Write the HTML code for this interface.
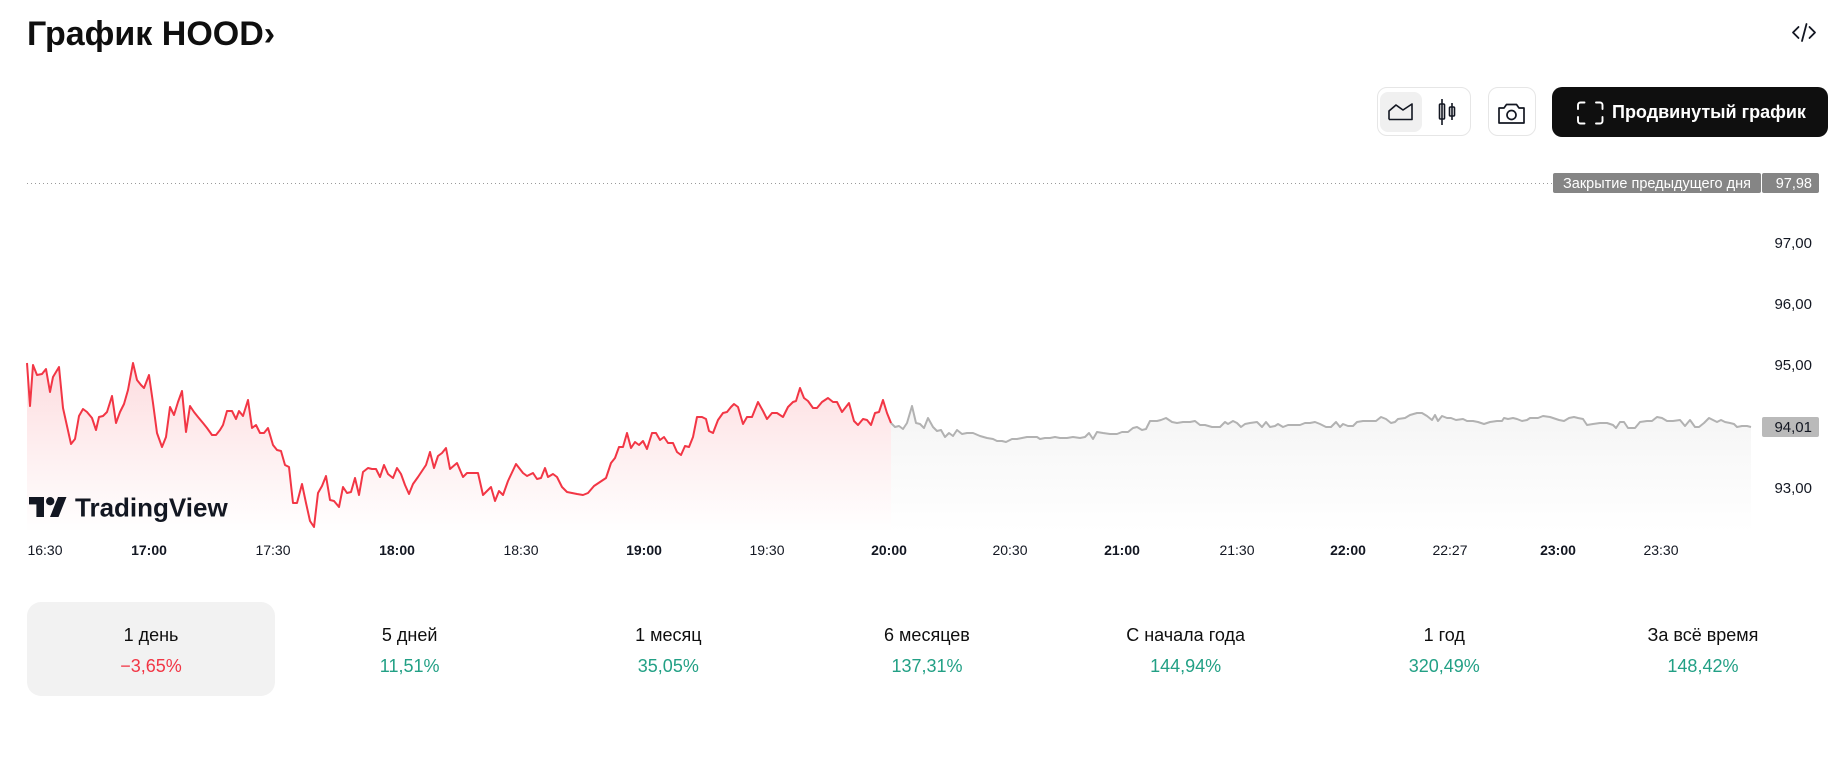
<!DOCTYPE html>
<html>
<head>
<meta charset="utf-8">
<style>
  html,body{margin:0;padding:0;background:#fff;}
  body{width:1838px;height:764px;position:relative;overflow:hidden;font-family:"Liberation Sans","Noto Sans CJK SC",sans-serif;color:#131722;}
  .title{position:absolute;left:27px;top:17px;font-size:34px;line-height:34px;font-weight:bold;white-space:nowrap;color:#0f0f0f;}
  .grp{position:absolute;left:1377px;top:87px;width:92px;height:47px;border:1px solid #e6e6e6;border-radius:10px;}
  .grp .act{position:absolute;left:2px;top:4px;width:42px;height:40px;background:#f0f0f0;border-radius:8px;}
  .cam{position:absolute;left:1488px;top:87px;width:46px;height:47px;border:1px solid #e6e6e6;border-radius:10px;}
  .adv{position:absolute;left:1552px;top:87px;width:276px;height:50px;background:#0f0f0f;border-radius:10px;}
  .adv span{position:absolute;left:60px;top:0;line-height:50px;color:#fff;font-size:18px;font-weight:bold;white-space:nowrap;}
  .tabs{position:absolute;left:27px;top:602px;width:1800px;display:flex;gap:10.67px;}
  .tab{width:248px;height:94px;border-radius:14px;text-align:center;box-sizing:border-box;padding-top:21px;}
  .tab.on{background:#f2f2f2;}
  .tab .l{font-size:18px;line-height:24px;color:#0f0f0f;}
  .tab .p{font-size:18px;line-height:24px;margin-top:7px;color:#22a085;}
  .tab .p.neg{color:#f23645;}
</style>
</head>
<body>
<div class="title">График HOOD›</div>

<div class="grp"><div class="act"></div></div>
<div class="cam"></div>
<div class="adv"><span>Продвинутый график</span></div>

<svg width="1838" height="764" style="position:absolute;left:0;top:0;" xmlns="http://www.w3.org/2000/svg">
  <defs>
    <linearGradient id="rg" gradientUnits="userSpaceOnUse" x1="0" y1="363" x2="0" y2="532">
      <stop offset="0" stop-color="#f23645" stop-opacity="0.17"/>
      <stop offset="1" stop-color="#f23645" stop-opacity="0"/>
    </linearGradient>
    <linearGradient id="gg" gradientUnits="userSpaceOnUse" x1="0" y1="406" x2="0" y2="532">
      <stop offset="0" stop-color="#8a8a8a" stop-opacity="0.09"/>
      <stop offset="1" stop-color="#8a8a8a" stop-opacity="0"/>
    </linearGradient>
  </defs>

  <!-- embed icon -->
  <g fill="none" stroke="#131722" stroke-width="1.8" stroke-linecap="round" stroke-linejoin="round">
    <polyline points="1798.5,27 1793,32.5 1798.5,38"/>
    <line x1="1806.5" y1="24" x2="1802" y2="41"/>
    <polyline points="1809.5,27 1815,32.5 1809.5,38"/>
  </g>

  <!-- area icon -->
  <g fill="none" stroke="#131722" stroke-width="1.6" stroke-linejoin="round">
    <polyline points="1389,119.5 1389,111 1396,105 1403,110 1412,104 1412,119.5 1389,119.5"/>
  </g>
  <!-- candles icon -->
  <g fill="none" stroke="#131722" stroke-width="1.6">
    <line x1="1442" y1="99" x2="1442" y2="125"/>
    <rect x="1439.5" y="104" width="5" height="15" rx="1"/>
    <line x1="1452" y1="103" x2="1452" y2="120"/>
    <rect x="1449.5" y="107" width="5" height="9" rx="1"/>
  </g>
  <!-- camera icon -->
  <g fill="none" stroke="#131722" stroke-width="1.7" stroke-linejoin="round">
    <path d="M1499,108 h5 l2.5,-3.5 h10 l2.5,3.5 h5 v15 h-25 z"/>
    <circle cx="1511.5" cy="115" r="4.5"/>
  </g>
  <!-- fullscreen icon -->
  <g fill="none" stroke="#ffffff" stroke-width="1.9" stroke-linecap="round">
    <path d="M1578,109 v-4 a2.5,2.5 0 0 1 2.5,-2.5 h4"/>
    <path d="M1596,102.5 h4 a2.5,2.5 0 0 1 2.5,2.5 v4"/>
    <path d="M1578,117 v4 a2.5,2.5 0 0 0 2.5,2.5 h4"/>
    <path d="M1596,123.5 h4 a2.5,2.5 0 0 0 2.5,-2.5 v-4"/>
  </g>

  <!-- previous close dotted line -->
  <line x1="27" y1="183.5" x2="1553" y2="183.5" stroke="#9a9a9a" stroke-width="1" stroke-dasharray="1 3"/>
  <rect x="1553" y="173" width="208" height="20" rx="2" fill="#858585"/>
  <rect x="1762" y="173" width="57" height="20" rx="2" fill="#858585"/>
  <text x="1657" y="188" text-anchor="middle" font-size="14.5" fill="#ffffff" font-family="Liberation Sans, sans-serif">Закрытие предыдущего дня</text>
  <text x="1812" y="188" text-anchor="end" font-size="14.5" fill="#ffffff" font-family="Liberation Sans, sans-serif">97,98</text>

  <!-- fills -->
  <polygon fill="url(#rg)" points="27,532 27,363 30,406 33,365 37,375 42,374 46,369 50,392 53,377 59,367 63,408 71,444 75,439 79,416 83,409 87,412 92,418 96,430 99,417 103,416 107,412 112,396 116,423 120,412 124,404 128,390 133,363 137,380 141,385 144,388 149,375 153,403 157,433 162,447 166,437 170,407 174,415 178,402 182,391 186,432 190,406 194,412 198,417 203,423 207,428 212,435 216,435 220,430 223,425 227,411 232,411 236,419 239,411 243,416 248,400 252,428 256,425 260,433 264,433 268,428 273,445 277,450 281,451 285,465 289,467 293,503 297,503 302,484 306,503 310,521 314,527 318,493 322,486 326,476 330,500 334,501 339,507 343,487 347,493 351,492 355,478 359,495 363,472 368,468 372,469 376,469 380,477 384,465 388,474 393,478 397,468 401,474 405,485 409,494 413,484 418,477 422,471 426,465 430,452 434,468 438,456 442,453 446,448 450,469 457,463 463,477 467,473 472,473 478,473 483,495 491,487 495,501 499,491 503,495 508,481 516,464 523,473 527,476 533,473 537,479 541,478 545,468 548,477 553,474 557,477 562,487 567,492 572,493 577,494 583,495 588,493 594,486 600,482 606,478 611,463 615,458 619,447 623,447 627,433 631,448 635,442 639,445 643,441 647,449 652,433 656,433 660,440 664,437 668,443 673,443 677,452 681,455 685,446 689,447 693,437 697,417 702,417 706,419 709,431 713,433 718,420 723,413 727,412 731,407 734,404 738,407 743,424 747,417 752,417 758,402 763,411 767,419 772,413 777,413 783,417 788,407 793,402 796,401 800,388 804,398 808,401 813,408 817,408 822,402 828,398 833,402 837,402 842,412 849,403 854,421 858,425 863,419 867,420 871,425 875,413 879,412 883,400 887,413 891,423 891,532"/>
  <polygon fill="url(#gg)" points="891,532 891,423 895,427 899,426 903,429 907,423 912,406 916,423 920,424 924,428 928,418 933,427 937,431 941,430 945,437 949,433 953,436 957,430 962,434 967,433 973,433 980,436 987,438 993,439 997,441 1002,441 1006,442 1012,439 1017,439 1022,438 1027,437 1032,437 1037,437 1040,439 1045,438 1050,438 1055,437 1060,438 1067,438 1073,437 1080,438 1085,437 1089,433 1093,439 1097,432 1103,433 1110,434 1117,434 1122,432 1128,432 1133,428 1137,427 1142,430 1146,429 1150,421 1157,421 1161,420 1166,418 1172,422 1177,423 1183,422 1190,422 1195,421 1200,425 1205,425 1212,427 1220,427 1225,422 1228,424 1233,421 1237,423 1241,427 1245,424 1250,423 1257,422 1262,427 1266,422 1270,427 1275,426 1278,424 1283,427 1288,425 1293,425 1300,425 1305,423 1310,423 1315,422 1320,424 1326,427 1331,427 1336,422 1340,427 1343,424 1348,426 1353,426 1357,422 1363,421 1370,421 1376,421 1381,417 1386,419 1391,423 1395,422 1398,419 1405,418 1410,415 1417,413 1422,413 1427,416 1432,420 1435,415 1438,421 1442,416 1447,418 1451,418 1456,420 1463,419 1467,421 1473,421 1478,422 1484,424 1490,422 1497,421 1502,421 1504,418 1508,419 1513,418 1517,419 1522,421 1527,420 1530,418 1535,418 1538,418 1543,416 1550,417 1553,418 1559,420 1564,421 1569,418 1574,417 1578,418 1583,419 1587,425 1593,424 1600,423 1607,423 1613,425 1616,428 1620,422 1624,422 1628,428 1635,428 1640,422 1647,421 1652,421 1657,417 1662,418 1667,421 1673,421 1680,420 1685,426 1690,420 1695,427 1699,427 1704,423 1709,418 1713,420 1717,422 1721,420 1725,422 1730,423 1734,424 1737,427 1742,426 1747,426 1751,427 1751,532"/>

  <!-- TradingView watermark -->
  <g fill="#131722">
    <rect x="29" y="497" width="15" height="7.4"/>
    <rect x="36.4" y="497" width="7.6" height="20"/>
    <circle cx="50.2" cy="501.2" r="4.2"/>
    <polygon points="50,517 58.5,517 66.5,497 58,497"/>
  </g>
  <text x="75" y="516.5" font-size="26" font-weight="bold" fill="#131722" font-family="Liberation Sans, sans-serif">TradingView</text>

  <!-- lines -->
  <polyline fill="none" stroke="#b2b2b2" stroke-width="2" stroke-linejoin="round" points="891,423 895,427 899,426 903,429 907,423 912,406 916,423 920,424 924,428 928,418 933,427 937,431 941,430 945,437 949,433 953,436 957,430 962,434 967,433 973,433 980,436 987,438 993,439 997,441 1002,441 1006,442 1012,439 1017,439 1022,438 1027,437 1032,437 1037,437 1040,439 1045,438 1050,438 1055,437 1060,438 1067,438 1073,437 1080,438 1085,437 1089,433 1093,439 1097,432 1103,433 1110,434 1117,434 1122,432 1128,432 1133,428 1137,427 1142,430 1146,429 1150,421 1157,421 1161,420 1166,418 1172,422 1177,423 1183,422 1190,422 1195,421 1200,425 1205,425 1212,427 1220,427 1225,422 1228,424 1233,421 1237,423 1241,427 1245,424 1250,423 1257,422 1262,427 1266,422 1270,427 1275,426 1278,424 1283,427 1288,425 1293,425 1300,425 1305,423 1310,423 1315,422 1320,424 1326,427 1331,427 1336,422 1340,427 1343,424 1348,426 1353,426 1357,422 1363,421 1370,421 1376,421 1381,417 1386,419 1391,423 1395,422 1398,419 1405,418 1410,415 1417,413 1422,413 1427,416 1432,420 1435,415 1438,421 1442,416 1447,418 1451,418 1456,420 1463,419 1467,421 1473,421 1478,422 1484,424 1490,422 1497,421 1502,421 1504,418 1508,419 1513,418 1517,419 1522,421 1527,420 1530,418 1535,418 1538,418 1543,416 1550,417 1553,418 1559,420 1564,421 1569,418 1574,417 1578,418 1583,419 1587,425 1593,424 1600,423 1607,423 1613,425 1616,428 1620,422 1624,422 1628,428 1635,428 1640,422 1647,421 1652,421 1657,417 1662,418 1667,421 1673,421 1680,420 1685,426 1690,420 1695,427 1699,427 1704,423 1709,418 1713,420 1717,422 1721,420 1725,422 1730,423 1734,424 1737,427 1742,426 1747,426 1751,427"/>
  <polyline fill="none" stroke="#f23645" stroke-width="2" stroke-linejoin="round" points="27,363 30,406 33,365 37,375 42,374 46,369 50,392 53,377 59,367 63,408 71,444 75,439 79,416 83,409 87,412 92,418 96,430 99,417 103,416 107,412 112,396 116,423 120,412 124,404 128,390 133,363 137,380 141,385 144,388 149,375 153,403 157,433 162,447 166,437 170,407 174,415 178,402 182,391 186,432 190,406 194,412 198,417 203,423 207,428 212,435 216,435 220,430 223,425 227,411 232,411 236,419 239,411 243,416 248,400 252,428 256,425 260,433 264,433 268,428 273,445 277,450 281,451 285,465 289,467 293,503 297,503 302,484 306,503 310,521 314,527 318,493 322,486 326,476 330,500 334,501 339,507 343,487 347,493 351,492 355,478 359,495 363,472 368,468 372,469 376,469 380,477 384,465 388,474 393,478 397,468 401,474 405,485 409,494 413,484 418,477 422,471 426,465 430,452 434,468 438,456 442,453 446,448 450,469 457,463 463,477 467,473 472,473 478,473 483,495 491,487 495,501 499,491 503,495 508,481 516,464 523,473 527,476 533,473 537,479 541,478 545,468 548,477 553,474 557,477 562,487 567,492 572,493 577,494 583,495 588,493 594,486 600,482 606,478 611,463 615,458 619,447 623,447 627,433 631,448 635,442 639,445 643,441 647,449 652,433 656,433 660,440 664,437 668,443 673,443 677,452 681,455 685,446 689,447 693,437 697,417 702,417 706,419 709,431 713,433 718,420 723,413 727,412 731,407 734,404 738,407 743,424 747,417 752,417 758,402 763,411 767,419 772,413 777,413 783,417 788,407 793,402 796,401 800,388 804,398 808,401 813,408 817,408 822,402 828,398 833,402 837,402 842,412 849,403 854,421 858,425 863,419 867,420 871,425 875,413 879,412 883,400 887,413 891,423"/>

  <!-- price axis -->
  <g font-size="15" fill="#131722" text-anchor="end" font-family="Liberation Sans, sans-serif">
    <text x="1812" y="248">97,00</text>
    <text x="1812" y="309">96,00</text>
    <text x="1812" y="370">95,00</text>
    <text x="1812" y="493">93,00</text>
  </g>
  <rect x="1762" y="417" width="57" height="20" rx="2" fill="#bababa"/>
  <text x="1812" y="432" font-size="15" fill="#131722" text-anchor="end" font-family="Liberation Sans, sans-serif">94,01</text>

  <!-- time axis -->
  <g font-size="14" fill="#131722" text-anchor="middle" font-family="Liberation Sans, sans-serif">
    <text x="45" y="555">16:30</text>
    <text x="149" y="555" font-weight="bold">17:00</text>
    <text x="273" y="555">17:30</text>
    <text x="397" y="555" font-weight="bold">18:00</text>
    <text x="521" y="555">18:30</text>
    <text x="644" y="555" font-weight="bold">19:00</text>
    <text x="767" y="555">19:30</text>
    <text x="889" y="555" font-weight="bold">20:00</text>
    <text x="1010" y="555">20:30</text>
    <text x="1122" y="555" font-weight="bold">21:00</text>
    <text x="1237" y="555">21:30</text>
    <text x="1348" y="555" font-weight="bold">22:00</text>
    <text x="1450" y="555">22:27</text>
    <text x="1558" y="555" font-weight="bold">23:00</text>
    <text x="1661" y="555">23:30</text>
  </g>
</svg>

<div class="tabs">
  <div class="tab on"><div class="l">1 день</div><div class="p neg">−3,65%</div></div>
  <div class="tab"><div class="l">5 дней</div><div class="p">11,51%</div></div>
  <div class="tab"><div class="l">1 месяц</div><div class="p">35,05%</div></div>
  <div class="tab"><div class="l">6 месяцев</div><div class="p">137,31%</div></div>
  <div class="tab"><div class="l">С начала года</div><div class="p">144,94%</div></div>
  <div class="tab"><div class="l">1 год</div><div class="p">320,49%</div></div>
  <div class="tab"><div class="l">За всё время</div><div class="p">148,42%</div></div>
</div>
</body>
</html>
